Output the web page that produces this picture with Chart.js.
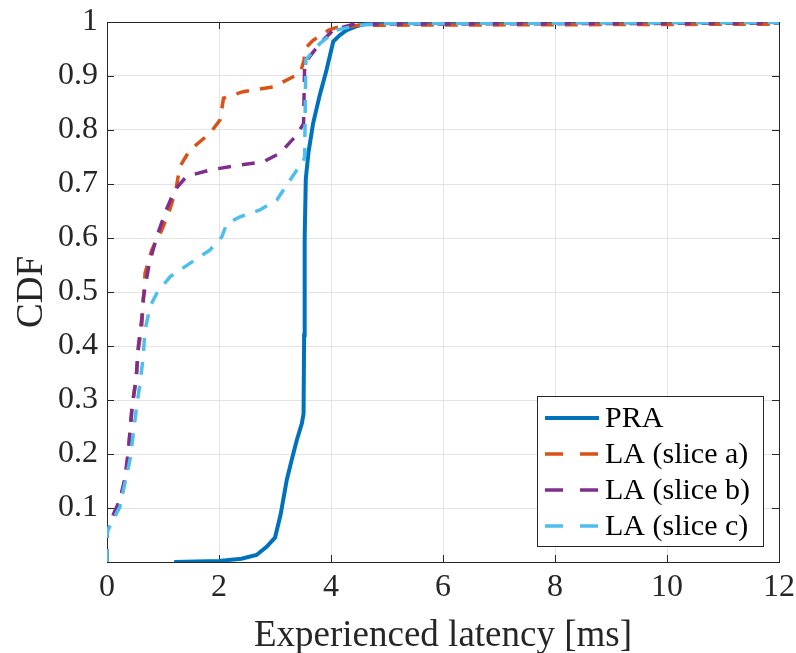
<!DOCTYPE html>
<html>
<head>
<meta charset="utf-8">
<script src="https://cdn.jsdelivr.net/npm/chart.js@4"></script>
<style>
  html, body { margin: 0; padding: 0; background: #fff; }
</style>
</head>
<body>
<canvas id="cdfChart" width="796" height="653"></canvas>
<script>
// ================= DATA =================
const seriesNames = ["PRA", "LA (slice a)", "LA (slice b)", "LA (slice c)"];
const xTicks = [0, 2, 4, 6, 8, 10, 12];
const yTicks = [0, 0.1, 0.2, 0.3, 0.4, 0.5, 0.6, 0.7, 0.8, 0.9, 1];

const praX = [1.2, 1.6, 2.0, 2.4, 2.67, 2.85, 3.0, 3.1, 3.21, 3.3, 3.39, 3.48, 3.51, 3.52, 3.53, 3.55, 3.6, 3.68, 3.8, 3.92, 4.04, 4.15, 4.28, 4.45, 4.64, 5.0, 12];
const praY = [0, 0.001, 0.002, 0.006, 0.013, 0.028, 0.045, 0.088, 0.152, 0.19, 0.226, 0.257, 0.275, 0.42, 0.6, 0.71, 0.76, 0.812, 0.865, 0.911, 0.964, 0.975, 0.985, 0.992, 0.997, 1, 1];

const sliceAX = [0, 0, 0.1, 0.23, 0.32, 0.38, 0.45, 0.52, 0.56, 0.62, 0.65, 0.68, 0.8, 0.98, 1.12, 1.23, 1.3, 1.48, 1.84, 2.02, 2.08, 2.43, 2.97, 3.45, 3.52, 3.53, 3.68, 3.96, 4.1, 4.5, 12];
const sliceAY = [0, 0.06, 0.08, 0.112, 0.152, 0.201, 0.29, 0.337, 0.393, 0.436, 0.485, 0.535, 0.578, 0.615, 0.652, 0.689, 0.732, 0.763, 0.794, 0.819, 0.859, 0.871, 0.88, 0.905, 0.93, 0.95, 0.966, 0.985, 0.99, 0.994, 0.996];

const sliceBX = [0, 0, 0.1, 0.23, 0.32, 0.38, 0.45, 0.52, 0.56, 0.62, 0.65, 0.75, 0.88, 1.05, 1.21, 1.42, 1.84, 2.375, 2.79, 3.09, 3.39, 3.51, 3.52, 3.53, 3.8, 4.04, 4.4, 12];
const sliceBY = [0, 0.065, 0.085, 0.115, 0.155, 0.205, 0.29, 0.34, 0.4, 0.45, 0.49, 0.55, 0.6, 0.65, 0.689, 0.714, 0.726, 0.735, 0.741, 0.757, 0.791, 0.812, 0.87, 0.924, 0.96, 0.985, 0.996, 0.998];

const sliceCX = [0, 0, 0.02, 0.23, 0.32, 0.41, 0.47, 0.53, 0.59, 0.64, 0.68, 0.77, 0.89, 1.125, 1.48, 1.84, 2.05, 2.14, 2.375, 2.73, 3.03, 3.39, 3.5, 3.53, 3.55, 3.8, 4.1, 4.46, 5.0, 12];
const sliceCY = [0, 0.05, 0.06, 0.102, 0.146, 0.189, 0.238, 0.288, 0.331, 0.374, 0.43, 0.473, 0.498, 0.528, 0.553, 0.578, 0.602, 0.627, 0.639, 0.652, 0.67, 0.726, 0.74, 0.75, 0.93, 0.96, 0.985, 0.994, 0.997, 0.999];

// ================= STYLE =================
const FONT = "'Liberation Serif', 'Times New Roman', serif";
const colors = ["#0072BD", "#D95319", "#7E2F8E", "#4DBEEE"];
const AXIS = "#262626";

function pts(xs, ys) {
  return xs.map((x, i) => ({ x: x, y: ys[i] }));
}

// ================= PLUGINS =================
// MATLAB-like box with inward ticks
const framePlugin = {
  id: "frame",
  beforeDatasetsDraw(chart) {
    const { ctx, chartArea: a, scales } = chart;
    const tl = 7;
    ctx.save();
    ctx.strokeStyle = AXIS;
    ctx.lineWidth = 1;
    ctx.beginPath();
    xTicks.forEach(v => {
      const px = Math.round(scales.x.getPixelForValue(v)) + 0.5;
      ctx.moveTo(px, a.bottom); ctx.lineTo(px, a.bottom - tl);
      ctx.moveTo(px, a.top); ctx.lineTo(px, a.top + tl);
    });
    yTicks.forEach(v => {
      const py = Math.round(scales.y.getPixelForValue(v)) + 0.5;
      ctx.moveTo(a.left, py); ctx.lineTo(a.left + tl, py);
      ctx.moveTo(a.right, py); ctx.lineTo(a.right - tl, py);
    });
    ctx.stroke();
    ctx.strokeRect(Math.round(a.left) + 0.5, Math.round(a.top) + 0.5,
      Math.round(a.right - a.left), Math.round(a.bottom - a.top));
    ctx.restore();
  }
};

// legend box in lower right corner
const legendPlugin = {
  id: "boxLegend",
  afterDatasetsDraw(chart) {
    const ctx = chart.ctx;
    const bx = 537, by = 396, bw = 226, bh = 150;
    ctx.save();
    ctx.fillStyle = "#fff";
    ctx.fillRect(bx, by, bw, bh);
    ctx.strokeStyle = AXIS;
    ctx.lineWidth = 1;
    ctx.strokeRect(bx + 0.5, by + 0.5, bw, bh);
    ctx.font = "30px " + FONT;
    ctx.textBaseline = "middle";
    ctx.fillStyle = "#000";
    seriesNames.forEach((name, i) => {
      const y = 418 + i * 36;
      ctx.strokeStyle = colors[i];
      ctx.lineWidth = i === 0 ? 4 : 3.5;
      ctx.setLineDash(i === 0 ? [] : [18, 17]);
      ctx.beginPath();
      ctx.moveTo(545, y);
      ctx.lineTo(599, y);
      ctx.stroke();
      ctx.setLineDash([]);
      ctx.fillText(name, 605, y + 1);
    });
    ctx.restore();
  }
};

// ================= CHART =================
const datasets = [
  { label: seriesNames[0], data: pts(praX, praY), borderColor: colors[0], borderWidth: 4, order: 4 },
  { label: seriesNames[1], data: pts(sliceAX, sliceAY), borderColor: colors[1], borderWidth: 3.5, borderDash: [13, 11], order: 3 },
  { label: seriesNames[2], data: pts(sliceBX, sliceBY), borderColor: colors[2], borderWidth: 3.5, borderDash: [13, 11], order: 2 },
  { label: seriesNames[3], data: pts(sliceCX, sliceCY), borderColor: colors[3], borderWidth: 3.5, borderDash: [13, 11], order: 1 }
];
datasets.forEach(d => {
  d.pointRadius = 0;
  d.tension = 0;
  d.fill = false;
});

new Chart(document.getElementById("cdfChart"), {
  type: "line",
  data: { datasets: datasets },
  options: {
    responsive: false,
    animation: false,
    layout: { padding: { left: 0, right: 17, top: 22, bottom: 0 } },
    plugins: { legend: { display: false }, tooltip: { enabled: false } },
    scales: {
      x: {
        type: "linear",
        min: 0,
        max: 12,
        afterBuildTicks: s => { s.ticks = xTicks.map(v => ({ value: v })); },
        afterFit: s => { s.height = 91; s.paddingLeft = 0; s.paddingRight = 0; },
        grid: { color: "#e3e3e3", drawTicks: false },
        border: { display: false },
        ticks: { color: AXIS, padding: 6, font: { family: FONT, size: 32 }, maxRotation: 0 },
        title: {
          display: true,
          text: "Experienced latency [ms]",
          color: AXIS,
          font: { family: FONT, size: 37 },
          padding: { top: 0, bottom: -5 }
        }
      },
      y: {
        type: "linear",
        min: 0,
        max: 1,
        afterBuildTicks: s => { s.ticks = yTicks.map(v => ({ value: v })); },
        afterFit: s => { s.width = 107; s.paddingTop = 0; s.paddingBottom = 0; },
        grid: { color: "#e3e3e3", drawTicks: false },
        border: { display: false },
        ticks: {
          color: AXIS,
          padding: 9,
          font: { family: FONT, size: 32 },
          callback: v => (v === 0 ? "" : String(Math.round(v * 10) / 10))
        },
        title: {
          display: true,
          text: "CDF",
          color: AXIS,
          font: { family: FONT, size: 37 },
          padding: { top: 10, bottom: 0 }
        }
      }
    }
  },
  plugins: [framePlugin, legendPlugin]
});
</script>
</body>
</html>
